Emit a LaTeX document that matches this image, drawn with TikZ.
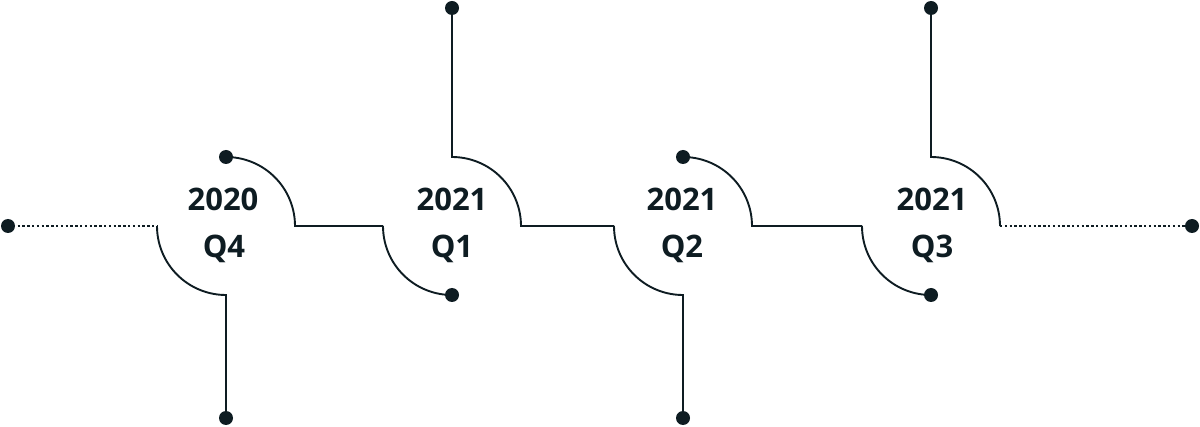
\documentclass[tikz,border=0pt]{standalone}
\usepackage{fontspec}
\setmainfont{Open Sans}
\definecolor{ink}{HTML}{0E1C22}
\begin{document}
\begin{tikzpicture}[x=1pt,y=1pt,
  wire/.style={draw=ink,line width=1.9pt},
  dotwire/.style={draw=ink,line width=2.4pt,dash pattern=on 2.4pt off 2.4pt},
  pin/.style={circle,fill=ink,inner sep=0pt,minimum size=14pt},
  lbl/.style={text=ink,font=\bfseries\fontsize{31}{34}\selectfont,anchor=base}]
\useasboundingbox (0,0) rectangle (1200,426);
% dots
\node[pin] (L) at (8,200) {};
\node[pin] (R) at (1192,200) {};
\node[pin] (q4u) at (226,269) {};
\node[pin] (q4d) at (226,8) {};
\node[pin] (q1u) at (452,418) {};
\node[pin] (q1d) at (452,131) {};
\node[pin] (q2u) at (683,269) {};
\node[pin] (q2d) at (683,8) {};
\node[pin] (q3u) at (931,418) {};
\node[pin] (q3d) at (931,131) {};
% junction coordinates
\coordinate (q4l) at (157,200);
\coordinate (q4b) at (226,131);
\coordinate (q4r) at (295,200);
\coordinate (q1l) at (383,200);
\coordinate (q1t) at (452,269);
\coordinate (q1r) at (521,200);
\coordinate (q2l) at (614,200);
\coordinate (q2b) at (683,131);
\coordinate (q2r) at (752,200);
\coordinate (q3l) at (862,200);
\coordinate (q3t) at (931,269);
\coordinate (q3r) at (1000,200);
% dotted ends
\draw[dotwire] (L.center) -- (q4l);
\draw[dotwire] (q3r) -- (R.center);
% Q4
\draw[wire] (q4l) arc[start angle=180,end angle=270,radius=69] -- (q4d.center);
\draw[wire] (q4u.center) arc[start angle=90,end angle=0,radius=69] -- (q1l);
% Q1
\draw[wire] (q1u.center) -- (q1t) arc[start angle=90,end angle=0,radius=69] -- (q2l);
\draw[wire] (q1l) arc[start angle=180,end angle=270,radius=69] -- (q1d.center);
% Q2
\draw[wire] (q2u.center) arc[start angle=90,end angle=0,radius=69] -- (q3l);
\draw[wire] (q2l) arc[start angle=180,end angle=270,radius=69] -- (q2d.center);
% Q3
\draw[wire] (q3u.center) -- (q3t) arc[start angle=90,end angle=0,radius=69] -- (q3r);
\draw[wire] (q3l) arc[start angle=180,end angle=270,radius=69] -- (q3d.center);
% labels
\node[lbl] (y4) at (223,215) {2020};
\node[lbl] (p4) at (224,168) {Q4};
\node[lbl] (y1) at (452,215) {2021};
\node[lbl] (p1) at (452,168) {Q1};
\node[lbl] (y2) at (682,215) {2021};
\node[lbl] (p2) at (682,168) {Q2};
\node[lbl] (y3) at (932,215) {2021};
\node[lbl] (p3) at (932,168) {Q3};
\end{tikzpicture}
\end{document}
